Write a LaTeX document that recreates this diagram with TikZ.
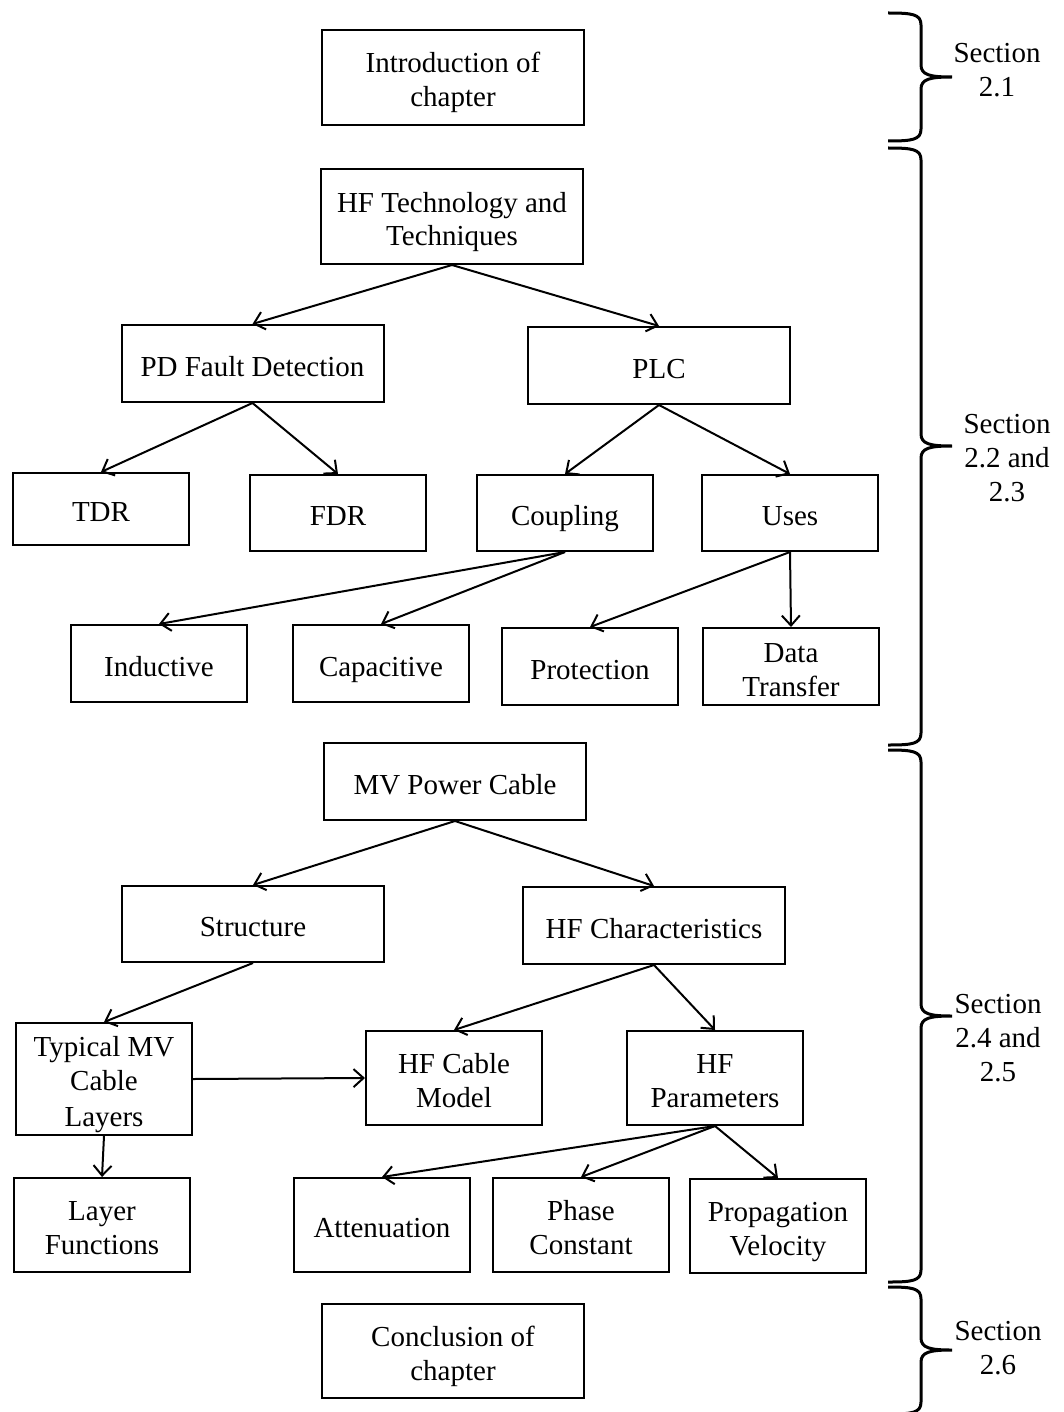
\documentclass[tikz,border=0pt]{standalone}
\usepackage{fontspec}
\setmainfont{Liberation Serif}
\usetikzlibrary{arrows.meta}
\newcommand{\tst}{\rule{0pt}{16pt}}
\newcommand{\bst}{\rule[-3.5pt]{0pt}{3.5pt}}
\begin{document}
\begin{tikzpicture}[x=0.5pt,y=-0.5pt,
  box/.style={draw, line width=1pt, inner sep=0pt, align=center,
    font=\fontsize{14.5}{17}\selectfont},
  wide/.style={box, minimum width=131pt},
  narrow/.style={box, minimum width=88pt},
  arr/.style={line width=1pt, -{Straight Barb[length=5pt,width=9pt,line width=1pt]}},
  bracestyle/.style={line width=1.5pt},
  seclabel/.style={align=center, inner sep=0pt, font=\fontsize{14.5}{17}\selectfont}]
\useasboundingbox (0,0) rectangle (1064,1412);

% nodes
\node[wide, minimum height=47.5pt] (intro) at (453,77.5) {\tst Introduction of\\chapter\bst};
\node[wide, minimum height=47.5pt] (hft) at (452,216.5) {\tst HF Technology and\\Techniques\bst};
\node[wide, minimum height=38.5pt] (pd) at (252.5,363.5) {\tst PD Fault Detection\bst};
\node[wide, minimum height=38.5pt] (plc) at (659,365.5) {\tst PLC\bst};
\node[narrow, minimum height=36pt] (tdr) at (101,509) {\tst TDR\bst};
\node[narrow, minimum height=38pt] (fdr) at (338,513) {\tst FDR\bst};
\node[narrow, minimum height=38pt] (coup) at (565,513) {\tst Coupling\bst};
\node[narrow, minimum height=38pt] (uses) at (790,513) {\tst Uses\bst};
\node[narrow, minimum height=38.5pt] (ind) at (159,663.5) {\tst Inductive\bst};
\node[narrow, minimum height=38.5pt] (cap) at (381,663.5) {\tst Capacitive\bst};
\node[narrow, minimum height=38.5pt] (prot) at (590,666.5) {\tst Protection\bst};
\node[narrow, minimum height=38.5pt] (data) at (791,666.5) {\tst Data\\Transfer\bst};
\node[wide, minimum height=38.5pt] (mv) at (455,781.5) {\tst MV Power Cable\bst};
\node[wide, minimum height=38pt] (struct) at (253,924) {\tst Structure\bst};
\node[wide, minimum height=38.5pt] (hfc) at (654,925.5) {\tst HF Characteristics\bst};
\node[narrow, minimum height=56pt] (typ) at (104,1079) {\tst Typical MV\\Cable\\[1pt]Layers\bst};
\node[narrow, minimum height=47pt] (hfcm) at (454,1078) {\tst HF Cable\\Model\bst};
\node[narrow, minimum height=47pt] (hfp) at (715,1078) {\tst HF\\Parameters\bst};
\node[narrow, minimum height=47pt] (lf) at (102,1225) {\tst Layer\\Functions\bst};
\node[narrow, minimum height=47pt] (att) at (382,1225) {\tst Attenuation\bst};
\node[narrow, minimum height=47pt] (phase) at (581,1225) {\tst Phase\\Constant\bst};
\node[narrow, minimum height=47pt] (prop) at (778,1226) {\tst Propagation\\Velocity\bst};
\node[wide, minimum height=47pt] (concl) at (453,1351) {\tst Conclusion of\\chapter\bst};

% connectors
\draw[arr] (hft.south) -- (pd.north);
\draw[arr] (hft.south) -- (plc.north);
\draw[arr] (pd.south) -- (tdr.north);
\draw[arr] (pd.south) -- (fdr.north);
\draw[arr] (plc.south) -- (coup.north);
\draw[arr] (plc.south) -- (uses.north);
\draw[arr] (coup.south) -- (ind.north);
\draw[arr] (coup.south) -- (cap.north);
\draw[arr] (uses.south) -- (prot.north);
\draw[arr] (uses.south) -- (data.north);
\draw[arr] (mv.south) -- (struct.north);
\draw[arr] (mv.south) -- (hfc.north);
\draw[arr] (struct.south) -- (typ.north);
\draw[arr] (hfc.south) -- (hfcm.north);
\draw[arr] (hfc.south) -- (hfp.north);
\draw[arr] (typ.south) -- (lf.north);
\draw[arr] (typ.east) -- (hfcm.west);
\draw[arr] (hfp.south) -- (att.north);
\draw[arr] (hfp.south) -- (phase.north);
\draw[arr] (hfp.south) -- (prop.north);

% braces
\newcommand{\secbrace}[3]{%
  \draw[bracestyle] (888,#1) .. controls (912,#1) and (921,#1+1) .. (921,#1+12)
    -- (921,#2-12) .. controls (921,#2-2) and (930,#2) .. (952,#2)
    .. controls (930,#2) and (921,#2+2) .. (921,#2+12)
    -- (921,#3-12) .. controls (921,#3-1) and (912,#3) .. (888,#3);}
\secbrace{13}{77}{141}
\secbrace{148}{446}{745}
\secbrace{750}{1016}{1282}
\secbrace{1287}{1350}{1414}

\node[seclabel] (s1) at (997,70) {Section\\2.1};
\node[seclabel] (s2) at (1007,458) {Section\\2.2 and\\2.3};
\node[seclabel] (s3) at (998,1038) {Section\\2.4 and\\2.5};
\node[seclabel] (s4) at (998,1348) {Section\\2.6};
\end{tikzpicture}
\end{document}
